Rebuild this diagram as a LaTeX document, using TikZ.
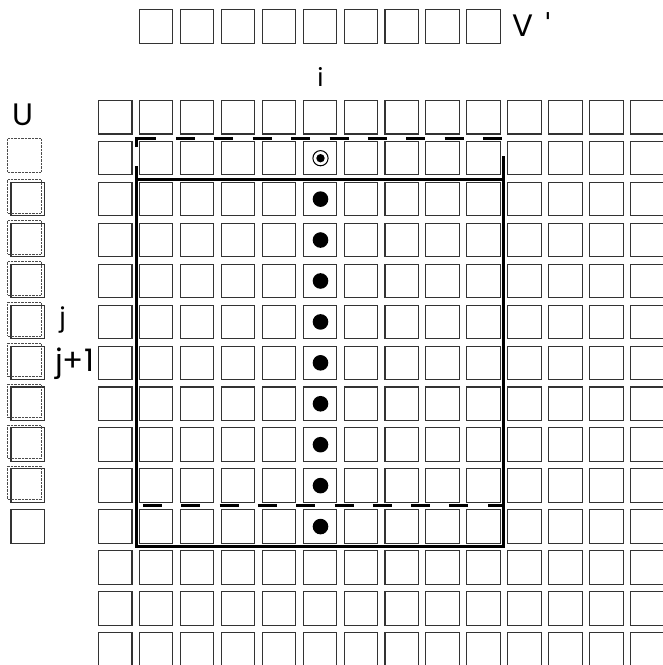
\documentclass[tikz,border=0pt]{standalone}
\usepackage{fontspec}
\setmainfont{Poppins}
\newfontfamily\djvfont{DejaVu Sans}
\begin{document}
\begin{tikzpicture}[x=1pt,y=-1pt,
  cell/.style={draw=black!80,line width=1.1pt},
  ghost/.style={draw=black!70,line width=0.8pt,dash pattern=on 0.8pt off 0.6pt},
  thickline/.style={line width=3.2pt,line cap=butt},
  dashbar/.style={line width=3pt,line cap=butt},
  lab/.style={anchor=base,inner sep=0pt,font=\fontsize{31}{34}\selectfont}]
\useasboundingbox (0,0) rectangle (663,665);
\clip (0,0) rectangle (663,665);
% main grid
\foreach \c in {0,...,13}{
  \foreach \r in {0,...,13}{
    \draw[cell] ({98.5+40.93*\c},{100.5+40.93*\r}) rectangle ++(33.5,33.5);
  }
}
% top row V'
\foreach \c in {1,...,9}{
  \draw[cell] ({98.5+40.93*\c},9.8) rectangle ++(33.5,33.5);
}
% U column: solid boxes
\foreach \r in {2,...,10}{
  \draw[cell] (11,{100.5+40.93*\r}) rectangle ++(33.5,33.5);
}
% U column: dotted (old) boxes
\foreach \r in {1,...,9}{
  \draw[ghost] (7.8,{100.5+40.93*\r-2.7}) rectangle ++(33.5,33.5);
}
% solid window
\draw[thickline] (136.7,166) -- (136.7,546.3) -- (503.8,546.3) -- (503.8,156);
\draw[thickline] (135.2,179.8) -- (505.3,179.8);
% dashed window (one row up)
\draw[dashbar,line join=miter] (136.7,147) -- (136.7,138.7) -- (156,138.7);
\foreach \k in {1,...,9}{
  \draw[dashbar] ({137.5+38.4*\k},138.7) -- ++(19,0);
}
\foreach \k in {0,...,8}{
  \draw[dashbar] ({143+38.3*\k},505) -- ++(19,0);
}
\draw[dashbar] (488,505) -- (503.8,505);
% dots
\draw[line width=1pt] (320.5,158.2) circle (7.6);
\fill (320.5,158.2) circle (4.2);
\foreach \r in {2,...,10}{
  \fill (320.5,{117.25+40.93*\r}) circle (7.8);
}
% labels
\node[lab] (U) at (22.8,125.7) {U};
\node[lab,font=\fontsize{25}{28}\selectfont] (i) at (320.5,86.7) {i};
\node[lab,anchor=base west] (V) at (512.5,36.7) {V};
\node[lab,font=\fontsize{26}{29}\selectfont\djvfont] (Vp) at (548,31.5) {\char"27};
\node[lab,font=\fontsize{26}{29}\selectfont] (j) at (62.5,326.7) {j};
\node[lab,anchor=base west] (j1) at (55,371.7) {j+1};
\end{tikzpicture}
\end{document}
